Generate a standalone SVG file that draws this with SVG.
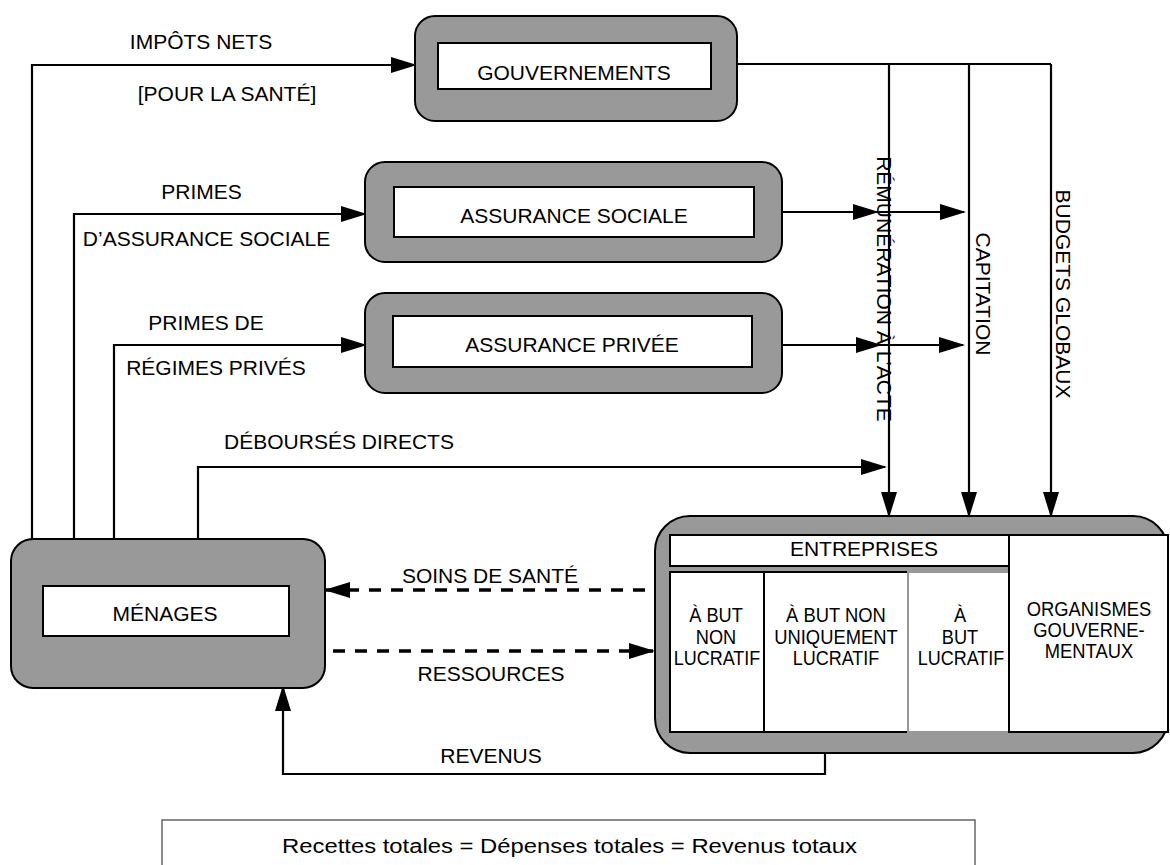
<svg xmlns="http://www.w3.org/2000/svg" width="1170" height="865" viewBox="0 0 1170 865">
<style>
text{font-family:"Liberation Sans",Arial,sans-serif;fill:#000}
.lbl{font-size:21px;text-anchor:middle}
.cell{font-size:20px;text-anchor:middle}
.outer{fill:#999;stroke:#000;stroke-width:2}
.inner{fill:#fff;stroke:#000;stroke-width:2}
.ln{fill:none;stroke:#000;stroke-width:2.2}
.arr{fill:none;stroke:#000;stroke-width:2.2;marker-end:url(#ah)}
.dash{fill:none;stroke:#000;stroke-width:3.5;stroke-dasharray:12 10;marker-end:url(#ah)}
</style>
<defs>
<marker id="ah" markerUnits="userSpaceOnUse" markerWidth="26" markerHeight="16" refX="24" refY="8" orient="auto">
<path d="M0,0 L26,8 L0,16 z" fill="#000"/>
</marker>
</defs>
<rect width="1170" height="865" fill="#fff"/>

<g id="connectors">
<polyline class="arr" points="32,539 32,65 415,65"/>
<polyline class="arr" points="74,539 74,214 365,214"/>
<polyline class="arr" points="114,539 114,345 365,345"/>
<polyline class="arr" points="198,542 198,467 885,467"/>
<polyline class="ln" points="737,64 1051,64"/>
<line class="arr" x1="889" y1="64" x2="889" y2="516"/>
<line class="arr" x1="969" y1="64" x2="969" y2="516"/>
<line class="arr" x1="1051" y1="64" x2="1051" y2="516"/>
<line class="arr" x1="782" y1="212" x2="877" y2="212"/>
<line class="arr" x1="877" y1="212" x2="964" y2="212"/>
<line class="arr" x1="782" y1="345" x2="880" y2="345"/>
<line class="arr" x1="880" y1="345" x2="963" y2="345"/>
<line class="dash" x1="645" y1="590" x2="326" y2="590"/>
<line class="dash" x1="333" y1="651" x2="653" y2="651"/>
<polyline class="arr" points="825,753 825,774 283,774 283,687"/>
</g>

<g id="labels">
<text class="lbl" x="201" y="49">IMPÔTS NETS</text>
<text class="lbl" x="227" y="101">[POUR LA SANTÉ]</text>
<text class="lbl" x="201.5" y="199">PRIMES</text>
<text class="lbl" x="206.5" y="245.5">D’ASSURANCE SOCIALE</text>
<text class="lbl" x="206" y="330">PRIMES DE</text>
<text class="lbl" x="216" y="375">RÉGIMES PRIVÉS</text>
<text class="lbl" x="339" y="449">DÉBOURSÉS DIRECTS</text>
<text class="lbl" x="490" y="583">SOINS DE SANTÉ</text>
<text class="lbl" x="491" y="681">RESSOURCES</text>
<text class="lbl" x="491" y="763">REVENUS</text>
<text class="lbl" transform="translate(877,289) rotate(90)">RÉMUNÉRATION À L’ACTE</text>
<text class="lbl" transform="translate(975.5,294) rotate(90)">CAPITATION</text>
<text class="lbl" transform="translate(1055.5,294) rotate(90)">BUDGETS GLOBAUX</text>
</g>

<g id="gouvernements">
<rect class="outer" x="415" y="16" width="322" height="105" rx="20"/>
<rect class="inner" x="438" y="43" width="273" height="46"/>
<text class="lbl" x="574" y="79.5">GOUVERNEMENTS</text>
</g>

<g id="assurance-sociale">
<rect class="outer" x="365" y="162" width="417" height="100" rx="20"/>
<rect class="inner" x="394" y="187" width="360" height="50"/>
<text class="lbl" x="574" y="222.5">ASSURANCE SOCIALE</text>
</g>

<g id="assurance-privee">
<rect class="outer" x="365" y="293" width="417" height="100" rx="20"/>
<rect class="inner" x="393" y="316" width="359" height="51"/>
<text class="lbl" x="572" y="352">ASSURANCE PRIVÉE</text>
</g>

<g id="menages">
<rect class="outer" x="11" y="539" width="314" height="149" rx="22"/>
<rect class="inner" x="43" y="586" width="246" height="50"/>
<text class="lbl" x="165" y="620.5">MÉNAGES</text>
</g>

<g id="entreprises">
<rect class="outer" x="655" y="516" width="513" height="237" rx="35"/>
<rect class="inner" x="670" y="535" width="339" height="31"/>
<text class="lbl" x="864" y="556">ENTREPRISES</text>
<rect class="inner" x="670" y="572" width="94" height="160"/>
<rect class="inner" x="764" y="572" width="144" height="160"/>
<rect x="908" y="572" width="101" height="160" fill="#fff" stroke="#999" stroke-width="2"/>
<rect class="inner" x="1009" y="535" width="159" height="197"/>
<text class="cell" transform="translate(716,622) scale(0.91,1)">À BUT</text>
<text class="cell" transform="translate(716,644) scale(0.91,1)">NON</text>
<text class="cell" transform="translate(717,665) scale(0.9,1)">LUCRATIF</text>
<text class="cell" transform="translate(836,622) scale(0.92,1)">À BUT NON</text>
<text class="cell" transform="translate(836,644) scale(0.92,1)">UNIQUEMENT</text>
<text class="cell" transform="translate(836,665) scale(0.9,1)">LUCRATIF</text>
<text class="cell" transform="translate(960,622) scale(0.91,1)">À</text>
<text class="cell" transform="translate(960,644) scale(0.91,1)">BUT</text>
<text class="cell" transform="translate(961,665) scale(0.9,1)">LUCRATIF</text>
<text class="cell" transform="translate(1089,616) scale(0.92,1)">ORGANISMES</text>
<text class="cell" transform="translate(1089,637) scale(0.92,1)">GOUVERNE-</text>
<text class="cell" transform="translate(1089,658) scale(0.92,1)">MENTAUX</text>
</g>

<g id="totaux">
<rect x="162" y="820" width="813" height="60" fill="#fff" stroke="#666" stroke-width="1.5"/>
<text x="282" y="852.5" font-size="20" textLength="575" lengthAdjust="spacingAndGlyphs">Recettes totales = Dépenses totales = Revenus totaux</text>
</g>
</svg>
